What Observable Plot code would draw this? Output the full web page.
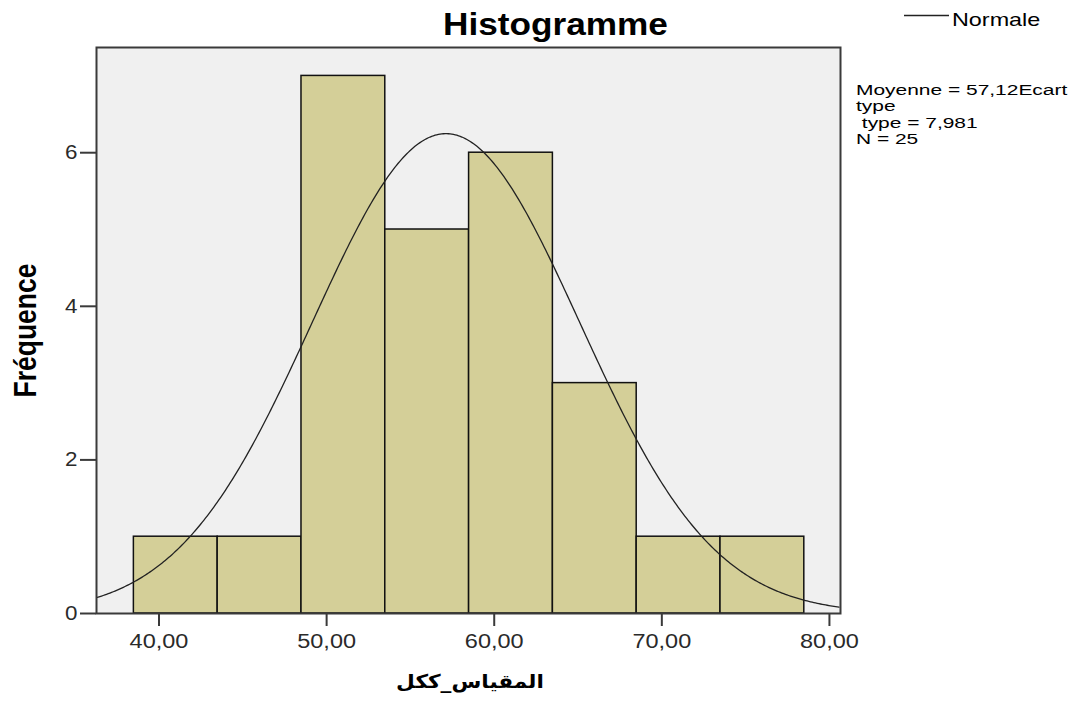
<!DOCTYPE html>
<html>
<head>
<meta charset="utf-8">
<script src="https://cdn.jsdelivr.net/npm/d3@7"></script>
<script src="https://cdn.jsdelivr.net/npm/@observablehq/plot@0.6"></script>
<style>
  html, body { margin: 0; padding: 0; background: #fff; }
  #wrap { position: relative; width: 1071px; height: 702px; }
  #chart, #overlay { position: absolute; left: 0; top: 0; }
  #overlay { pointer-events: none; }
</style>
</head>
<body>
<div id="wrap">
  <div id="chart"></div>
  <svg id="overlay" width="1071" height="702"></svg>
</div>
<script>
// Histogram bins (lower edge, upper edge) and counts
const binStarts = [38.5, 43.5, 48.5, 53.5, 58.5, 63.5, 68.5, 73.5];
const binEnds   = [43.5, 48.5, 53.5, 58.5, 63.5, 68.5, 73.5, 78.5];
const counts    = [1, 1, 7, 5, 6, 3, 1, 1];
// Normal curve parameters shown in the legend
const mean = 57.12;
const sd = 7.981;
const n = 25;
const binWidth = 5;
const xTicks = [40, 50, 60, 70, 80];
const yTicks = [0, 2, 4, 6];
// Texts
const titleText = "Histogramme";
const legendText = "Normale";
const statsLines = ["Moyenne = 57,12Ecart", "type", "\u00a0type = 7,981", "N = 25"];
const xLabelText = "المقياس_ككل";
const yLabelText = "Fréquence";

const bins = binStarts.map((s, i) => ({x1: s, x2: binEnds[i], y: counts[i]}));
const xDomain = [36.27, 80.66];
const curve = d3.range(xDomain[0], xDomain[1] + 0.001, 0.1).map(x => ({
  x,
  y: n * binWidth / (sd * Math.sqrt(2 * Math.PI)) * Math.exp(-0.5 * ((x - mean) / sd) ** 2)
}));

const fmt = d => d.toFixed(2).replace(".", ",");
const FONT = "Liberation Sans, Arial, sans-serif";

const plot = Plot.plot({
  width: 1071,
  height: 702,
  marginLeft: 96,
  marginRight: 231,
  marginTop: 47,
  marginBottom: 89,
  style: {fontFamily: FONT, fontSize: "20px", color: "#2a2a2a", background: "transparent"},
  x: {domain: xDomain},
  y: {domain: [0, 7.37]},
  marks: [
    Plot.frame({fill: "#f0f0f0", stroke: "none"}),
    Plot.rectY(bins, {x1: "x1", x2: "x2", y: "y", fill: "#d4cf98", stroke: "#111", strokeWidth: 1.5, inset: 0}),
    Plot.line(curve, {x: "x", y: "y", stroke: "#222", strokeWidth: 1.3, clip: true}),
    Plot.frame({stroke: "#3a3a3a", strokeWidth: 2}),
    Plot.axisX({ticks: xTicks, tickFormat: fmt, tickSize: 13, tickPadding: 7, label: null, stroke: "#3a3a3a", strokeWidth: 2, fontSize: 21}),
    Plot.axisY({ticks: yTicks, tickFormat: d => String(d), tickSize: 16, tickPadding: 3, label: null, stroke: "#3a3a3a", strokeWidth: 2, fontSize: 20})
  ]
});
document.getElementById("chart").appendChild(plot);

// Slight horizontal stretch of tick labels, as in the reference rendering
d3.select(plot).selectAll('g[aria-label="x-axis tick label"] text, g[aria-label="y-axis tick label"] text')
  .attr("transform", function() { return (this.getAttribute("transform") || "") + " scale(1.12,1)"; });

// Overlay texts
const ov = d3.select("#overlay").style("font-family", FONT);
ov.append("text")
  .attr("transform", "translate(555.5,35) scale(1.1,1)")
  .attr("text-anchor", "middle").attr("font-size", 32).attr("font-weight", "bold").attr("fill", "#000")
  .text(titleText);
ov.append("line").attr("x1", 904).attr("x2", 949).attr("y1", 15.5).attr("y2", 15.5)
  .attr("stroke", "#222").attr("stroke-width", 1.5);
ov.append("text")
  .attr("transform", "translate(952,26) scale(1.23,1)")
  .attr("font-size", 19).attr("fill", "#000")
  .text(legendText);
const statsY = [95, 111, 127.5, 144];
statsLines.forEach((s, i) => {
  ov.append("text")
    .attr("transform", `translate(856,${statsY[i]}) scale(1.36,1)`)
    .attr("font-size", 15.4).attr("fill", "#000")
    .text(s);
});
ov.append("text")
  .attr("transform", "translate(470,688) scale(1.14,1)")
  .attr("text-anchor", "middle").attr("font-size", 19).attr("font-weight", "bold")
  .attr("font-family", "DejaVu Sans, Noto Sans, sans-serif").attr("fill", "#000")
  .attr("direction", "rtl")
  .text(xLabelText);
ov.append("text")
  .attr("transform", "translate(36,330.5) scale(1.2,1) rotate(-90)")
  .attr("text-anchor", "middle").attr("font-size", 26.5).attr("font-weight", "bold").attr("fill", "#000")
  .text(yLabelText);
</script>
</body>
</html>
